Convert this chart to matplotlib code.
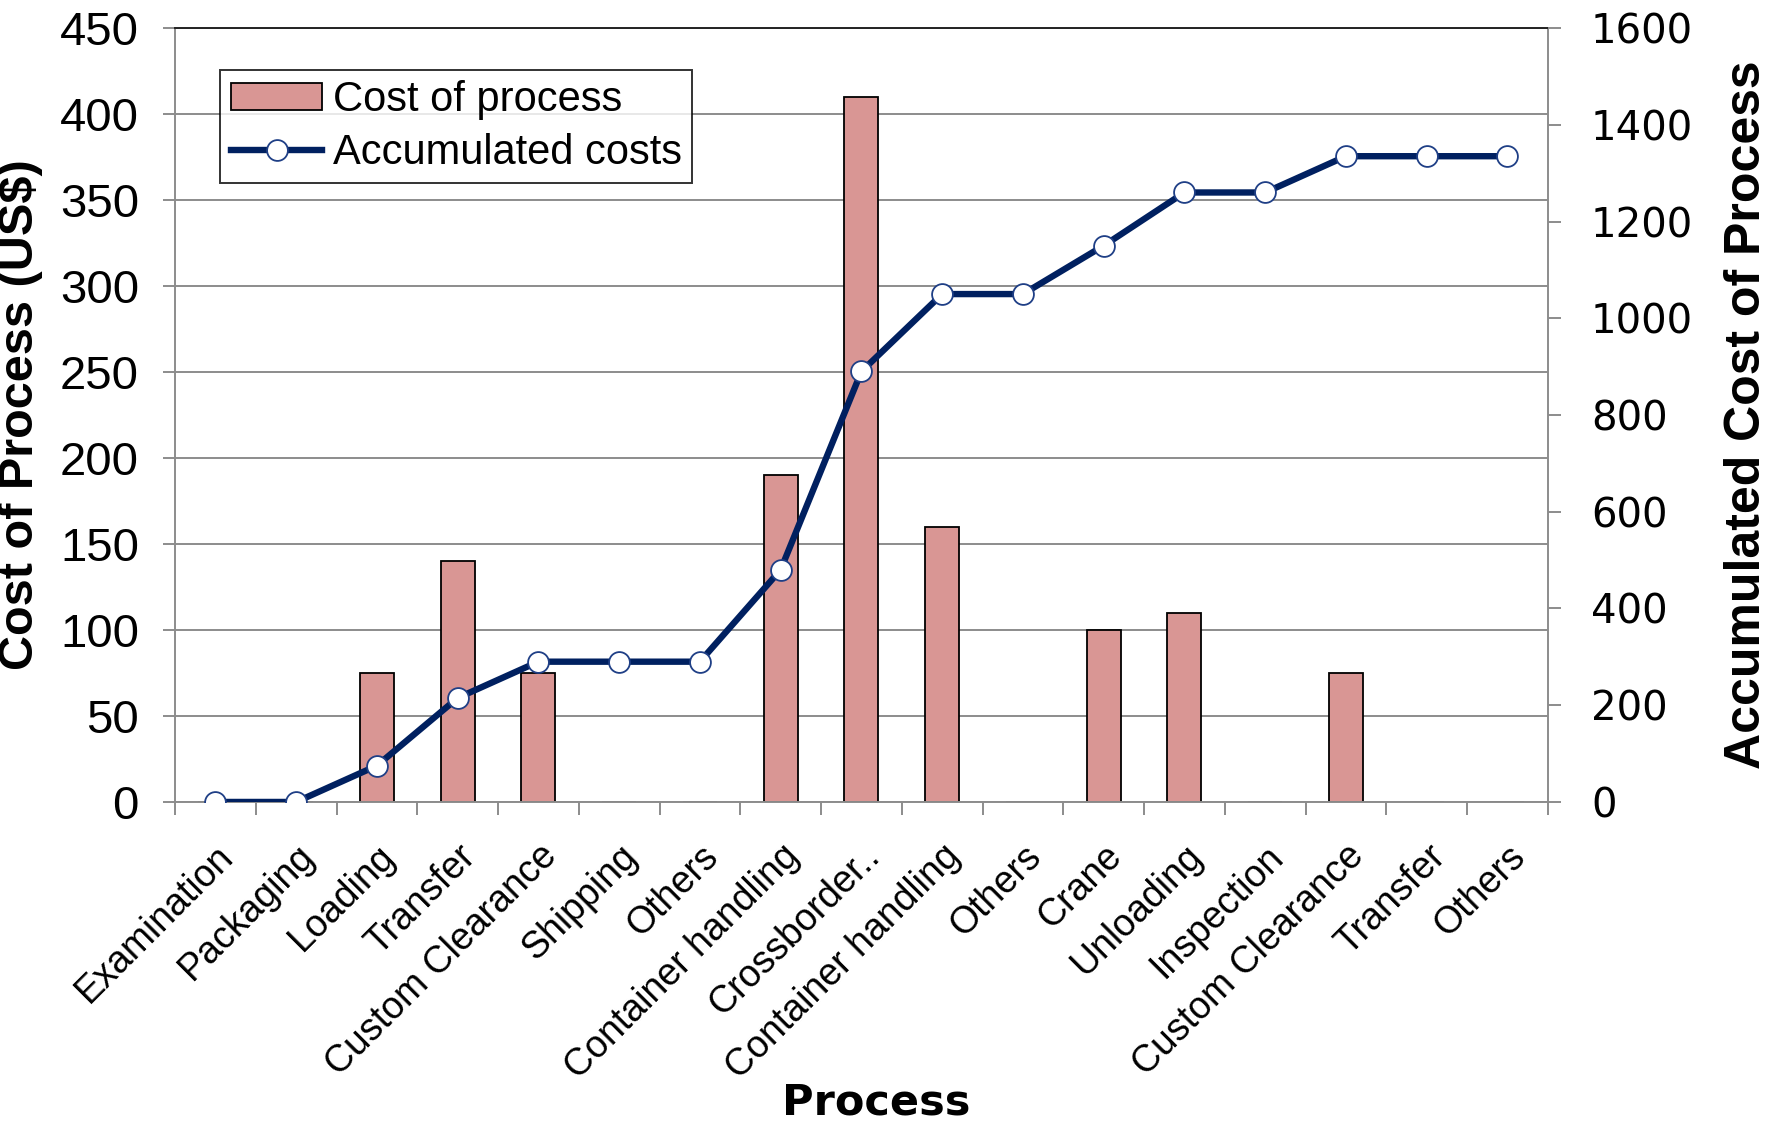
import matplotlib
matplotlib.use("Agg")
import matplotlib.pyplot as plt
import numpy as np
from matplotlib import font_manager
from matplotlib.ticker import FixedLocator

# process steps along the chain and their costs (US$)
processes = ["Examination", "Packaging", "Loading", "Transfer", "Custom Clearance",
             "Shipping", "Others", "Container handling", "Crossborder..",
             "Container handling", "Others", "Crane", "Unloading", "Inspection",
             "Custom Clearance", "Transfer", "Others"]
cost = [0, 0, 75, 140, 75, 0, 0, 190, 410, 160, 0, 100, 110, 0, 75, 0, 0]
accumulated = [0, 0, 75, 215, 290, 290, 290, 480, 890, 1050, 1050, 1150,
               1260, 1260, 1335, 1335, 1335]

left_ticks = list(range(0, 451, 50))
right_ticks = list(range(0, 1601, 200))

installed = {f.name for f in font_manager.fontManager.ttflist}
narrow = "Liberation Sans Narrow" if "Liberation Sans Narrow" in installed else "Liberation Sans"
plt.rcParams['font.family'] = ["Liberation Sans", "DejaVu Sans"]

bar_color = "#d99694"
line_color = "#002060"
grid_color = "#8c8c8c"

fig = plt.figure(figsize=(17.73, 11.21), dpi=100)
ax = fig.add_axes([0.0987, 0.2846, 0.7743, 0.6904])
x = np.arange(len(processes))

bars = ax.bar(x, cost, width=0.42, color=bar_color, edgecolor="black",
              linewidth=1.3, zorder=2, label="Cost of process")
ax.set_xlim(-0.5, len(processes) - 0.5)
ax.set_ylim(0, 450)
ax.set_yticks(left_ticks)
ax.yaxis.grid(True, color=grid_color, linewidth=1.4, zorder=0)
ax.set_axisbelow(True)

# category labels sit under the bar centres, tick marks on the boundaries
ax.set_xticks(x)
ax.set_xticklabels(processes, rotation=45, ha="right", rotation_mode="anchor",
                   fontsize=27)
ax.tick_params(axis="x", which="major", length=0, pad=26)
ax.xaxis.set_minor_locator(FixedLocator(np.arange(-0.5, len(processes), 1.0)))
ax.tick_params(axis="x", which="minor", length=9, width=1.4, color=grid_color,
               direction="out")

ax.tick_params(axis="y", length=9, width=1.4, color=grid_color, pad=17,
               labelsize=34)
for lbl in ax.get_yticklabels():
    lbl.set_fontfamily([narrow, "DejaVu Sans"])

for side in ("left", "right", "bottom"):
    ax.spines[side].set_color(grid_color)
    ax.spines[side].set_linewidth(1.4)
ax.spines["top"].set_color("#222222")
ax.spines["top"].set_linewidth(1.4)

ax.set_ylabel("Cost of Process (US$)", fontsize=35, fontweight="bold",
              fontfamily=["Liberation Sans", "DejaVu Sans"], labelpad=12)

ax2 = ax.twinx()
line, = ax2.plot(x, accumulated, color=line_color, linewidth=4.6, marker="o",
                 markersize=15, markerfacecolor="white",
                 markeredgecolor="#1f3f86", markeredgewidth=1.3,
                 label="Accumulated costs", zorder=3)
ax2.set_ylim(0, 1600)
ax2.set_yticks(right_ticks)
ax2.tick_params(axis="y", length=9, width=1.4, color=grid_color, pad=22,
                labelsize=29)
for lbl in ax2.get_yticklabels():
    lbl.set_fontfamily(["DejaVu Sans"])
for side in ax2.spines:
    ax2.spines[side].set_visible(False)

ax2.set_ylabel("Accumulated Cost of Process", fontsize=36, fontweight="bold",
               fontfamily=[narrow, "DejaVu Sans"], labelpad=22)

fig.text(0.494, 0.006, "Process", fontsize=31, fontweight="bold",
         fontfamily=["DejaVu Sans"], ha="center", va="baseline")

leg = ax.legend([bars, line], ["Cost of process", "Accumulated costs"],
                loc="upper left", bbox_to_anchor=(0.033, 0.946),
                borderaxespad=0, fontsize=30, frameon=True, fancybox=False,
                handlelength=2.2, handletextpad=0.25, borderpad=0.25,
                labelspacing=0.3, handleheight=0.6)
leg.get_frame().set_edgecolor("black")
leg.get_frame().set_linewidth(1.4)
leg.set_zorder(5)

fig.savefig("out.png", dpi=100)
